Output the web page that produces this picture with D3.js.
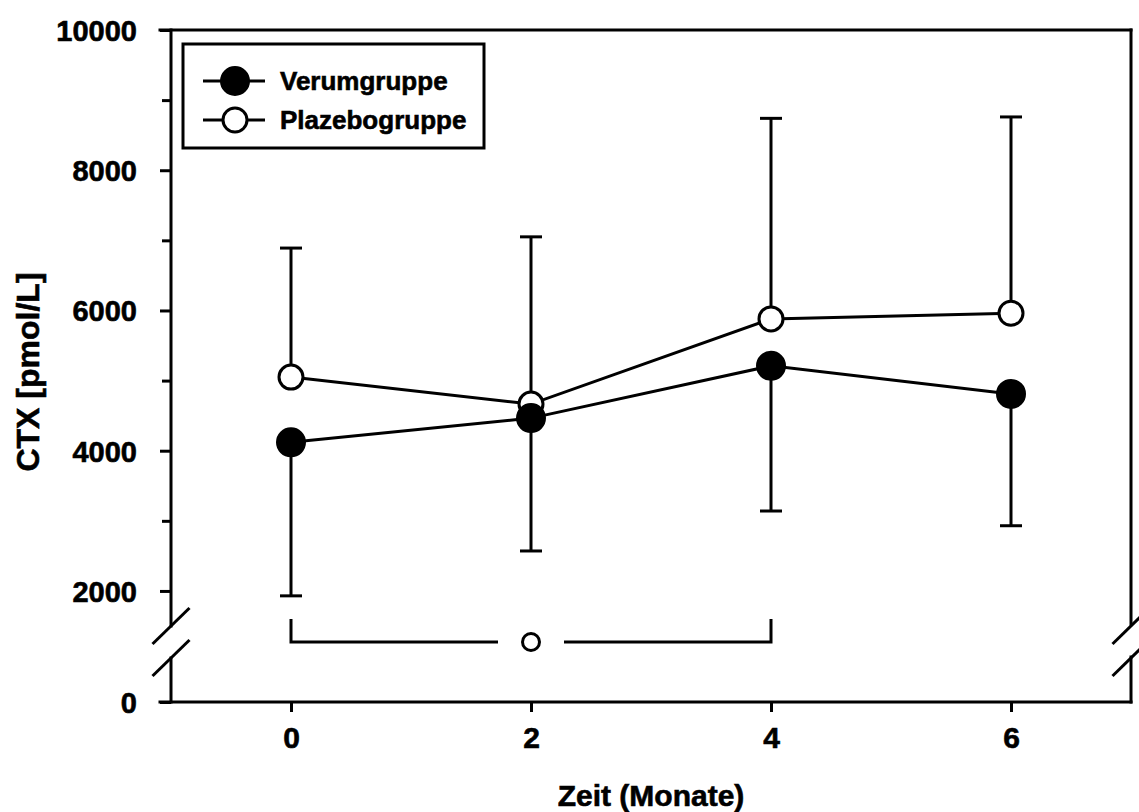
<!DOCTYPE html>
<html>
<head>
<meta charset="utf-8">
<script src="https://cdn.jsdelivr.net/npm/d3@7"></script>
<style>
  html, body { margin: 0; padding: 0; background: #fff; }
  svg { display: block; }
  text { font-family: "Liberation Sans", Arial, Helvetica, sans-serif; font-weight: bold; fill: #000; stroke: #000; stroke-width: 0.6px; }
</style>
</head>
<body>
<svg id="chart" width="1139" height="812"></svg>
<script>
// CTX over time, Verum vs. Plazebo (mean ± SD)
const months = [0, 2, 4, 6];
const verumMean = [4120, 4465, 5210, 4810];
const verumSD = [2190, 1895, 2070, 1880];
const placeboMean = [5050, 4665, 5880, 5960];
const placeboSD = [1840, 2385, 2860, 2800];

const yMajorTicks = [0, 2000, 4000, 6000, 8000, 10000];
const yMinorTicks = [3000, 5000, 7000, 9000];
const xTicks = [0, 2, 4, 6];
const seriesNames = ["Verumgruppe", "Plazebogruppe"];
const xTitle = "Zeit (Monate)";
const yTitle = "CTX [pmol/L]";

(function () {
const svg = d3.select("#chart");
const SW = 3;

// x: months, with one month of padding either side
const x = d3.scaleLinear().domain([-1, 7]).range([171, 1131]);
// y: broken axis, the range 500..1500 is squeezed into the break
const y = d3.scaleLinear().domain([0, 500, 1500, 10000]).range([702, 658, 626, 30]);

const plotL = x.range()[0], plotR = x.range()[1];
const plotT = y(10000), plotB = y(0);
const brkLo = y(1500), brkHi = y(500);

const g = svg.append("g");

// frame: top, right and bottom edges plus left axis, interrupted at the break
const seg = (x1, y1, x2, y2) => g.append("line")
  .attr("x1", x1).attr("y1", y1).attr("x2", x2).attr("y2", y2)
  .attr("stroke", "#000").attr("stroke-width", SW).attr("stroke-linecap", "square");

seg(plotL - 11, plotT, plotR, plotT);
seg(plotL - 11, plotB, plotR, plotB);
seg(plotL, plotT, plotL, brkLo);
seg(plotL, brkHi, plotL, plotB);
seg(plotR, plotT, plotR, brkLo - 2);
seg(plotR, brkHi - 1, plotR, plotB);

// break marks on both vertical axes
[plotL, plotR].forEach(ax => {
  [brkLo, brkHi].forEach(by => {
    g.append("line")
      .attr("x1", ax - 18.5).attr("y1", by + 18)
      .attr("x2", ax + 18.5).attr("y2", by - 18)
      .attr("stroke", "#000").attr("stroke-width", SW);
  });
});

// y axis ticks and labels
const yAxis = g.append("g").attr("transform", `translate(${plotL},0)`)
  .call(d3.axisLeft(y).tickValues(yMajorTicks).tickSize(11).tickPadding(23).tickFormat(d3.format("d")));
yAxis.select(".domain").remove();
yAxis.selectAll(".tick line").attr("stroke", "#000").attr("stroke-width", SW);
yAxis.selectAll(".tick text").style("font-size", "29px").attr("dy", "0.36em");

const yMinor = g.append("g").attr("transform", `translate(${plotL},0)`)
  .call(d3.axisLeft(y).tickValues(yMinorTicks).tickSize(9).tickFormat(""));
yMinor.select(".domain").remove();
yMinor.selectAll(".tick line").attr("stroke", "#000").attr("stroke-width", SW);

// x axis ticks and labels
const xAxis = g.append("g").attr("transform", `translate(0,${plotB})`)
  .call(d3.axisBottom(x).tickValues(xTicks).tickSize(10).tickPadding(15).tickFormat(d3.format("d")));
xAxis.select(".domain").remove();
xAxis.selectAll(".tick line").attr("stroke", "#000").attr("stroke-width", SW);
xAxis.selectAll(".tick text").style("font-size", "30px");
g.selectAll(".tick text").attr("fill", "#000");
[yAxis, yMinor, xAxis].forEach(a => a.attr("font-family", null).attr("font-size", null));

// axis titles
svg.append("text")
  .attr("x", (plotL + plotR) / 2).attr("y", 806)
  .attr("text-anchor", "middle").style("font-size", "30px")
  .text(xTitle);
svg.append("text")
  .attr("transform", `translate(39,372) rotate(-90)`)
  .attr("text-anchor", "middle").style("font-size", "32px")
  .text(yTitle);

// significance bracket between month 0 and month 4
const bY = y(1000);
const bracket = g.append("g").attr("stroke", "#000").attr("stroke-width", SW).attr("fill", "none");
bracket.append("path").attr("d", `M${x(0)},${bY - 23}V${bY}H${x(2) - 33}`);
bracket.append("path").attr("d", `M${x(2) + 33},${bY}H${x(4)}V${bY - 23}`);
bracket.append("circle").attr("cx", x(2)).attr("cy", bY).attr("r", 8.5).attr("fill", "#fff");

// data series
const series = [
  { name: seriesNames[1], mean: placeboMean, sd: placeboSD, dir: 1, fill: "#fff", r: 12 },
  { name: seriesNames[0], mean: verumMean, sd: verumSD, dir: -1, fill: "#000", r: 13.5 }
];

const pathGen = d3.line().x(d => x(d.m)).y(d => y(d.v));

series.forEach(s => {
  const pts = months.map((m, i) => ({ m, v: s.mean[i], e: s.mean[i] + s.dir * s.sd[i] }));
  const sg = g.append("g");
  sg.append("path").datum(pts).attr("d", pathGen)
    .attr("fill", "none").attr("stroke", "#000").attr("stroke-width", SW);
  const eb = sg.append("g").attr("stroke", "#000").attr("stroke-width", SW);
  eb.selectAll(".stem").data(pts).join("line").attr("class", "stem")
    .attr("x1", d => x(d.m)).attr("x2", d => x(d.m))
    .attr("y1", d => y(d.v)).attr("y2", d => y(d.e));
  eb.selectAll(".cap").data(pts).join("line").attr("class", "cap")
    .attr("x1", d => x(d.m) - 11).attr("x2", d => x(d.m) + 11)
    .attr("y1", d => y(d.e)).attr("y2", d => y(d.e));
  sg.selectAll("circle").data(pts).join("circle")
    .attr("cx", d => x(d.m)).attr("cy", d => y(d.v)).attr("r", s.r)
    .attr("fill", s.fill).attr("stroke", "#000").attr("stroke-width", SW);
});

// legend
const lg = svg.append("g");
lg.append("rect").attr("x", 183).attr("y", 44).attr("width", 301).attr("height", 104)
  .attr("fill", "#fff").attr("stroke", "#000").attr("stroke-width", SW);
const legendItems = [
  { name: seriesNames[0], fill: "#000", r: 13.5, cy: 81 },
  { name: seriesNames[1], fill: "#fff", r: 12, cy: 120 }
];
legendItems.forEach(it => {
  lg.append("line").attr("x1", 203).attr("x2", 265).attr("y1", it.cy).attr("y2", it.cy)
    .attr("stroke", "#000").attr("stroke-width", SW);
  lg.append("circle").attr("cx", 235).attr("cy", it.cy).attr("r", it.r)
    .attr("fill", it.fill).attr("stroke", "#000").attr("stroke-width", SW);
  lg.append("text").attr("x", 280).attr("y", it.cy).attr("dy", "0.35em")
    .style("font-size", "26px").text(it.name);
});
})();
</script>
</body>
</html>
